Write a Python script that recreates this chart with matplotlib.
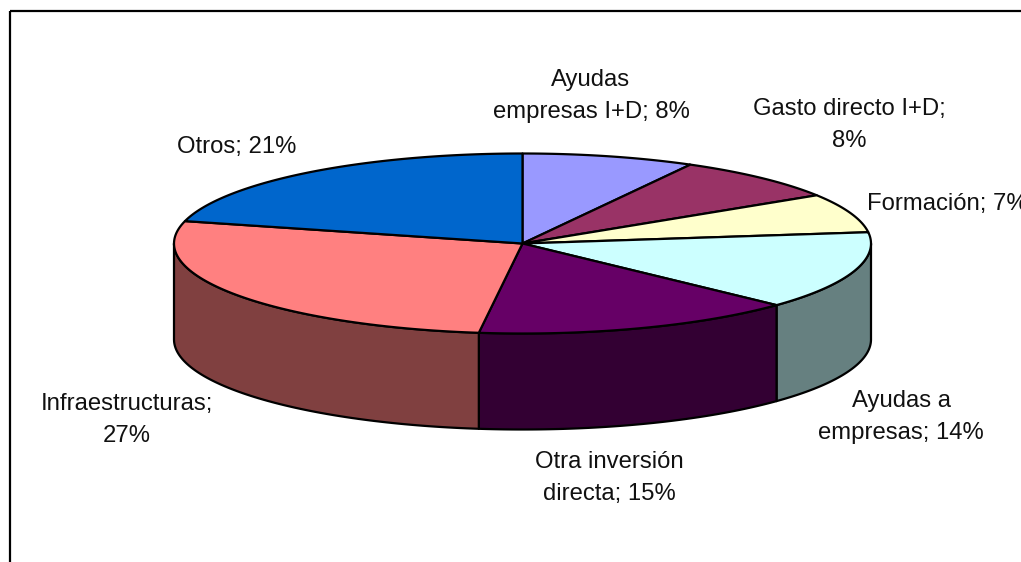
#!/usr/bin/env python3
import numpy as np
import matplotlib
matplotlib.use("Agg")
import matplotlib.pyplot as plt
from matplotlib.patches import Rectangle

# -------------------------
# Data (clockwise from the top)
# -------------------------
labels = ["Ayudas\nempresas I+D; 8%", "Gasto directo I+D;\n8%", "Formación; 7%",
          "Ayudas a\nempresas; 14%", "Otra inversión\ndirecta; 15%",
          "Infraestructuras;\n27%", "Otros; 21%"]
values = [8, 8, 7, 14, 15, 27, 21]
top_colors = ["#9999FF", "#993366", "#FFFFCC", "#CCFFFF", "#660066", "#FF8080", "#0066CC"]
side_colors = ["#4D4D80", "#4D1A33", "#808066", "#668080", "#330033", "#804040", "#003366"]
label_x = [591, 849, 867, 901, 609, 127, 237]
label_y = [96, 125, 204, 417, 478, 420, 147]
label_ha = ["center", "center", "left", "center", "center", "center", "center"]

# -------------------------
# Pie geometry, in pixels
# -------------------------
CX, CY = 522.5, 243.5
RX, RY = 348.5, 90
DEPTH = 96
LW = 1.6

def rim(a, b, n=80):
    # a and b are degrees clockwise from the top
    t = np.radians(np.linspace(a, b, n))
    return CX + RX * np.sin(t), CY - RY * np.cos(t)

plt.rcParams['font.family'] = ['Liberation Sans', 'DejaVu Sans']
fig = plt.figure(figsize=(10.21, 5.62), dpi=100)
ax = fig.add_axes([0, 0, 1, 1])
ax.set_xlim(0, 1021)
ax.set_ylim(562, 0)
ax.axis('off')

ax.add_patch(Rectangle((10, 11), 1200, 800, fill=False, edgecolor='black', linewidth=1.6))

edges = np.cumsum([0] + values) * 3.6

# side wall, only the front half of the rim shows
for i in range(len(values)):
    a = max(edges[i], 90)
    b = min(edges[i + 1], 270)
    if b <= a:
        continue
    x, y = rim(a, b)
    ax.fill(np.r_[x, x[::-1]], np.r_[y, y[::-1] + DEPTH],
            facecolor=side_colors[i], edgecolor='black', linewidth=LW, joinstyle='round')

# top face
for i in range(len(values)):
    x, y = rim(edges[i], edges[i + 1])
    ax.fill(np.r_[CX, x], np.r_[CY, y],
            facecolor=top_colors[i], edgecolor='black', linewidth=LW, joinstyle='round')

for lab, x, y, ha in zip(labels, label_x, label_y, label_ha):
    ax.text(x, y, lab, ha=ha, va='center', multialignment='center',
            fontsize=17.2, linespacing=1.62, color='#111111')

fig.savefig("out.png", dpi=100)
